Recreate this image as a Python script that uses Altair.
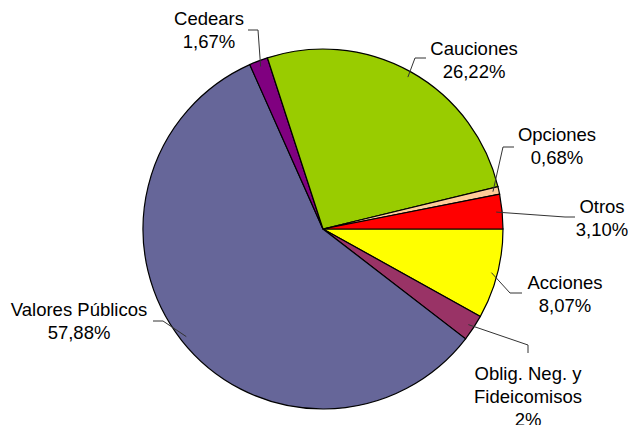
import math
import altair as alt
import pandas as pd

# ---- data ----
categories = ["Acciones", "Oblig. Neg. y Fideicomisos", "Valores Públicos",
              "Cedears", "Cauciones", "Opciones", "Otros"]
values = [8.07, 2.38, 57.88, 1.67, 26.22, 0.68, 3.10]
labels = ["Acciones\n8,07%", "Oblig. Neg. y\nFideicomisos\n2%",
          "Valores Públicos\n57,88%", "Cedears\n1,67%", "Cauciones\n26,22%",
          "Opciones\n0,68%", "Otros\n3,10%"]
colors = ["#FFFF00", "#993366", "#666699", "#800080", "#99CC00", "#FFCC99", "#FF0000"]

# ---- layout (pixels in the chart area) ----
W, H = 620, 417
CX, CY, R = 315, 221, 180
label_pos = {  # first-line text centre, leader elbow, leader end
    "Acciones": ((557, 275), (502, 285), (514, 285)),
    "Oblig. Neg. y Fideicomisos": ((520, 366), (520, 337), (520, 345)),
    "Valores Públicos": ((71, 302), (155, 313), (145, 313)),
    "Cedears": ((201, 11), (250, 22), (240, 22)),
    "Cauciones": ((466, 41), (407, 50), (418, 50)),
    "Opciones": ((549, 127), (495, 139), (506, 139)),
    "Otros": ((594, 199), (557, 209), (567, 209)),
}

pie_df = pd.DataFrame({"cat": categories, "value": values,
                       "idx": list(range(len(categories)))})

total = sum(values)
cum = 0.0
line_rows, text_rows = [], []
for c, v, lab in zip(categories, values, labels):
    mid = (cum + v / 2) / total
    cum += v
    a = 2 * math.pi * mid
    sx, sy = CX + 174 * math.cos(a), CY + 174 * math.sin(a)
    (tx, ty), (bx, by), (ex, ey) = label_pos[c]
    for k, (px, py) in enumerate([(sx, sy), (bx, by), (ex, ey)]):
        line_rows.append({"cat": c, "k": k, "px": px, "py": py})
    text_rows.append({"cat": c, "label": lab, "px": tx, "py": ty})
line_df = pd.DataFrame(line_rows)
text_df = pd.DataFrame(text_rows)

xs = alt.Scale(domain=[0, W], range=[0, W], nice=False, zero=False)
ys = alt.Scale(domain=[0, H], range=[0, H], nice=False, zero=False)

pie = alt.Chart(pie_df).mark_arc(radius=R, stroke="black", strokeWidth=1.2).encode(
    theta=alt.Theta("value:Q", stack=True,
                    scale=alt.Scale(range=[math.pi / 2, math.pi / 2 + 2 * math.pi])),
    order=alt.Order("idx:Q"),
    color=alt.Color("cat:N", scale=alt.Scale(domain=categories, range=colors), legend=None),
    x=alt.value(CX),
    y=alt.value(CY),
)

leaders = alt.Chart(line_df).mark_line(color="#333333", strokeWidth=1).encode(
    x=alt.X("px:Q", scale=xs, axis=None),
    y=alt.Y("py:Q", scale=ys, axis=None),
    detail="cat:N",
    order="k:Q",
)

texts = alt.Chart(text_df).mark_text(
    align="center", baseline="middle", lineBreak="\n", lineHeight=23,
    font="Liberation Sans", fontSize=18.5, color="black"
).encode(
    x=alt.X("px:Q", scale=xs, axis=None),
    y=alt.Y("py:Q", scale=ys, axis=None),
    text="label:N",
)

chart = alt.layer(pie, leaders, texts).properties(
    width=W, height=H, autosize=alt.AutoSizeParams(type="none"), padding=0
).configure_view(stroke=None)

chart.save("out.html", embed_options={"renderer": "svg", "actions": False})
